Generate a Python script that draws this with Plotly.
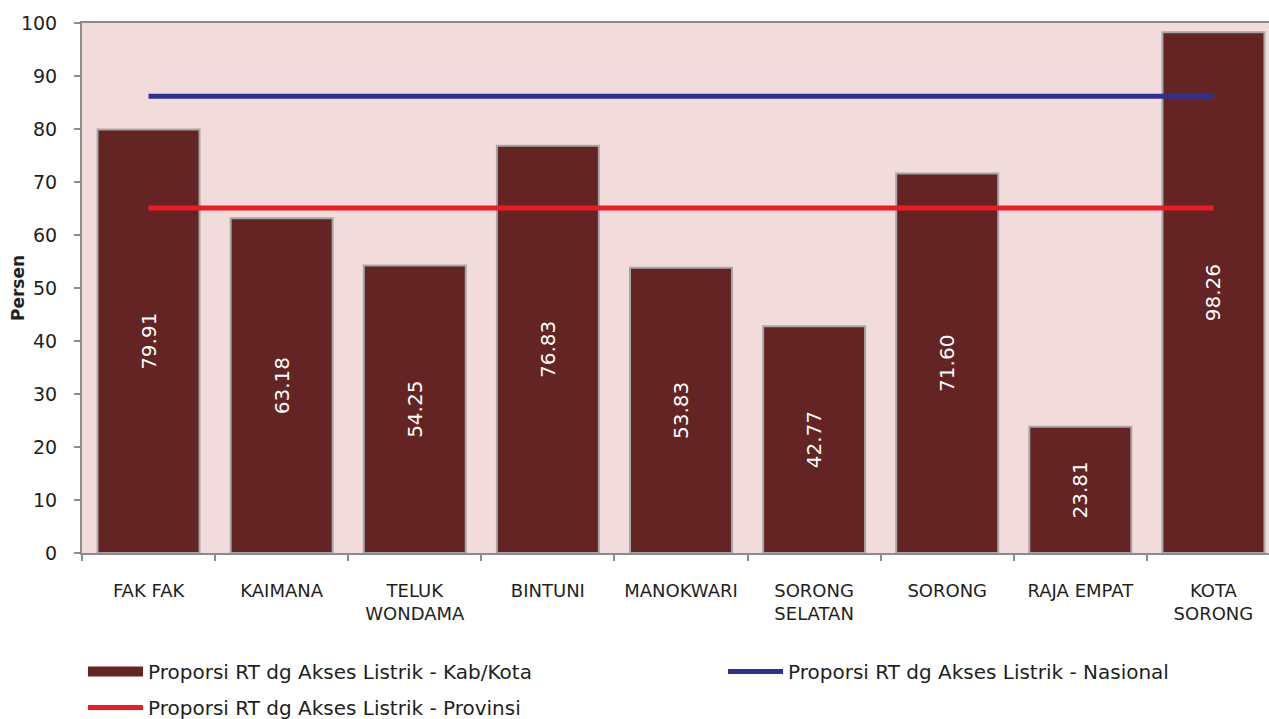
import plotly.graph_objects as go

categories = ["FAK FAK", "KAIMANA", "TELUK<br>WONDAMA", "BINTUNI", "MANOKWARI",
              "SORONG<br>SELATAN", "SORONG", "RAJA EMPAT", "KOTA<br>SORONG"]
kab_kota = [79.91, 63.18, 54.25, 76.83, 53.83, 42.77, 71.60, 23.81, 98.26]
nasional = [86.2] * 9
provinsi = [65.1] * 9
y_ticks = [0, 10, 20, 30, 40, 50, 60, 70, 80, 90, 100]

FONT = "DejaVu Sans"
BAR = "#632423"
W, H = 1280, 719
L = 82

fig = go.Figure()
fig.add_trace(go.Bar(
    x=categories, y=kab_kota, showlegend=False,
    name="Proporsi RT dg Akses Listrik - Kab/Kota",
    marker=dict(color=BAR, line=dict(color="#A6A6A6", width=2)),
    text=[f"{v:.2f}" for v in kab_kota],
    textposition="inside", insidetextanchor="middle", textangle=-90,
    textfont=dict(color="white", size=20, family=FONT),
))
# legend-only entry for the bar series (wide swatch like the original)
fig.add_trace(go.Scatter(
    x=[None], y=[None], mode="lines",
    name="Proporsi RT dg Akses Listrik - Kab/Kota",
    line=dict(color=BAR, width=13), legend="legend", legendgroup="a",
))
fig.add_trace(go.Scatter(
    x=categories, y=nasional, mode="lines",
    name="Proporsi RT dg Akses Listrik - Nasional",
    line=dict(color="#2E3192", width=5), legend="legend2",
))
fig.add_trace(go.Scatter(
    x=categories, y=provinsi, mode="lines",
    name="Proporsi RT dg Akses Listrik - Provinsi",
    line=dict(color="#ED1C24", width=5), legend="legend", legendgroup="b",
))

leg_common = dict(orientation="v", xanchor="left", yanchor="top",
                  xref="container", yref="container",
                  font=dict(size=20, family=FONT, color="#231F20"),
                  itemwidth=55, bgcolor="rgba(0,0,0,0)")

fig.update_layout(
    width=W, height=H,
    margin=dict(l=L, r=0, t=23, b=166, autoexpand=False),
    plot_bgcolor="#F2DCDB", paper_bgcolor="white",
    bargap=0.234,
    font=dict(family=FONT, color="#231F20"),
    showlegend=True,
    legend=dict(x=83 / W, y=1 - 652 / H, traceorder="grouped",
                tracegroupgap=7, **leg_common),
    legend2=dict(x=723 / W, y=1 - 652 / H, **leg_common),
    uniformtext=dict(minsize=10, mode="show"),
    annotations=[dict(
        text="<b>Persen</b>", textangle=-90, showarrow=False,
        xref="paper", yref="paper", x=(18 - L) / (W - L), y=0.5,
        xanchor="center", yanchor="middle",
        font=dict(size=17, family=FONT, color="#231F20"),
    )],
)
fig.update_yaxes(
    range=[0, 100], tickvals=y_ticks, showgrid=False,
    showline=True, mirror=True, linecolor="#8C8C8C", linewidth=2,
    ticks="outside", ticklen=6, tickcolor="#8C8C8C", tickwidth=2,
    ticklabelstandoff=13,
    tickfont=dict(size=19, family=FONT),
    zeroline=False,
)
fig.update_xaxes(
    showgrid=False, showline=True, mirror=True, linecolor="#8C8C8C", linewidth=2,
    ticks="outside", ticklen=6, tickcolor="#8C8C8C", tickwidth=2,
    tickson="boundaries", ticklabelstandoff=20,
    tickfont=dict(size=18, family=FONT),
)

fig.write_html(
    "out.html",
    config={"displayModeBar": False},
    post_script="document.body.style.margin='0';document.body.style.overflow='hidden';",
)
